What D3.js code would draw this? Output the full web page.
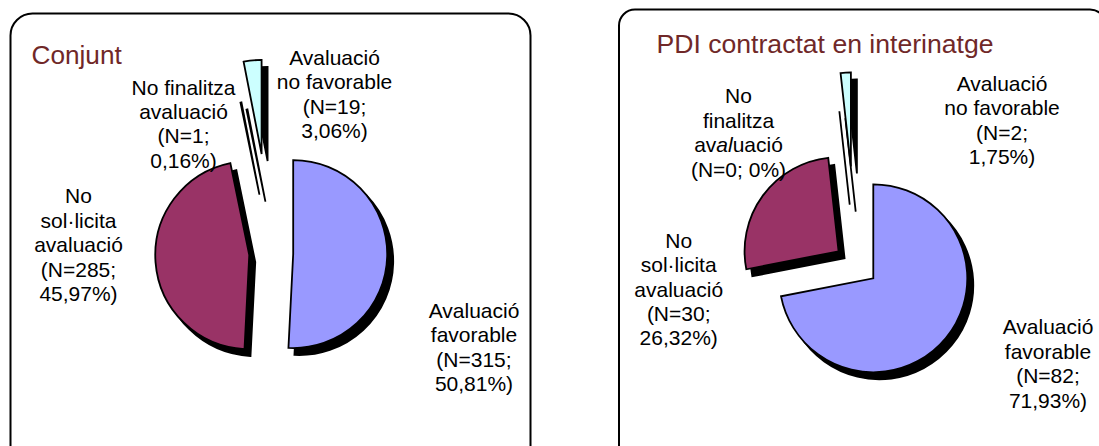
<!DOCTYPE html>
<html>
<head>
<meta charset="utf-8">
<script src="https://cdn.jsdelivr.net/npm/d3@7"></script>
<style>
  html, body { margin: 0; padding: 0; background: #ffffff; }
  svg { display: block; }
  text { font-family: "Liberation Sans", Arial, sans-serif; }
</style>
</head>
<body>
<svg id="chart" width="1099" height="446"></svg>
<script>
// ---------------- DATA ----------------
const categories = ["Avaluació favorable", "No sol·licita avaluació", "No finalitza avaluació", "Avaluació no favorable"];
const titles = ["Conjunt", "PDI contractat en interinatge"];

const conjuntN   = [315, 285, 1, 19];
const conjuntPct = ["50,81%", "45,97%", "0,16%", "3,06%"];

const interinN   = [82, 30, 0, 2];
const interinPct = ["71,93%", "26,32%", "0%", "1,75%"];

// label wording (line breaks as printed)
const conjuntNameLines = [["Avaluació", "favorable"], ["No", "sol·licita", "avaluació"], ["No finalitza", "avaluació"], ["Avaluació", "no favorable"]];
const interinNameLines = [["Avaluació", "favorable"], ["No", "sol·licita", "avaluació"], ["No", "finalitza", "av*al*uació"], ["Avaluació", "no favorable"]];
const interinJoinNPct  = [false, false, true, false];   // "(N=0; 0%)" printed on one line

// ---------------- STYLE / LAYOUT ----------------
const colors = ["#9999ff", "#993366", "#ffffff", "#ccffff"];
const titleColor = "#702828";
const radius = 94;
const shadowDx = 6, shadowDy = 7;
const fontSize = 21, lineGap = 24.4;

const panels = [
  { n: conjuntN, pct: conjuntPct, names: conjuntNameLines, join: [false, false, false, false],
    box: { x: 10.5, y: 13.5, w: 520, h: 470, rx: 22 },
    title: { x: 31.5, y: 63.5, size: 26.2 },
    pie: { cx: 271.2, cy: 253.5 },
    explode: [22, 22, 60, 100],
    labels: [[474, 318], [78.5, 203.3], [183.5, 94.5], [334.5, 65]] },
  { n: interinN, pct: interinPct, names: interinNameLines, join: interinJoinNPct,
    box: { x: 619, y: 9.5, w: 487, h: 470, rx: 16 },
    title: { x: 656.5, y: 52.7, size: 26.6 },
    pie: { cx: 856.3, cy: 264.3 },
    explode: [22, 22, 60, 98],
    labels: [[1048, 334.3], [678.7, 247.7], [738.5, 103.3], [1002, 91]] }
];
panels[0].titleText = titles[0];
panels[1].titleText = titles[1];

// ---------------- DRAW ----------------
const svg = d3.select("#chart");
const pie = d3.pie().sort(null).value(d => d.value);
const arc = d3.arc().innerRadius(0).outerRadius(radius);

panels.forEach(p => {
  const g = svg.append("g");

  g.append("rect")
    .attr("x", p.box.x).attr("y", p.box.y)
    .attr("width", p.box.w).attr("height", p.box.h)
    .attr("rx", p.box.rx).attr("ry", p.box.rx)
    .attr("fill", "#ffffff").attr("stroke", "#000").attr("stroke-width", 2);

  g.append("text")
    .attr("x", p.title.x).attr("y", p.title.y)
    .attr("font-size", p.title.size).attr("fill", titleColor)
    .text(p.titleText);

  const data = categories.map((c, i) => ({ cat: c, value: p.n[i], i: i }));
  const arcs = pie(data);
  const offset = d => {
    const mid = (d.startAngle + d.endAngle) / 2;
    const e = p.explode[d.data.i];
    return [Math.sin(mid) * e, -Math.cos(mid) * e];
  };

  const pg = g.append("g").attr("transform", `translate(${p.pie.cx},${p.pie.cy})`);

  // shadows
  pg.selectAll("path.shadow").data(arcs).join("path")
    .attr("class", "shadow")
    .attr("d", arc)
    .attr("transform", d => { const o = offset(d); return `translate(${o[0] + shadowDx},${o[1] + shadowDy})`; })
    .attr("fill", "#000").attr("stroke", "#000").attr("stroke-width", 1.8)
    .attr("stroke-linejoin", "miter");

  // slices
  pg.selectAll("path.slice").data(arcs).join("path")
    .attr("class", "slice")
    .attr("d", arc)
    .attr("transform", d => { const o = offset(d); return `translate(${o[0]},${o[1]})`; })
    .attr("fill", d => colors[d.data.i])
    .attr("stroke", "#000").attr("stroke-width", 1.8)
    .attr("stroke-linejoin", "miter");

  // labels
  categories.forEach((c, i) => {
    let lines = p.names[i].slice();
    const nTxt = "(N=" + p.n[i] + ";";
    const pTxt = p.pct[i] + ")";
    if (p.join[i]) lines.push(nTxt + " " + pTxt); else { lines.push(nTxt); lines.push(pTxt); }
    const t = g.append("text")
      .attr("font-size", fontSize).attr("fill", "#000")
      .attr("text-anchor", "middle");
    lines.forEach((ln, k) => {
      const tl = t.append("tspan").attr("x", p.labels[i][0]).attr("y", p.labels[i][1] + k * lineGap);
      const parts = ln.split("*");
      parts.forEach((part, j) => {
        if (j % 2 === 1) tl.append("tspan").attr("font-style", "italic").text(part);
        else tl.append("tspan").text(part);
      });
    });
  });
});
</script>
</body>
</html>
